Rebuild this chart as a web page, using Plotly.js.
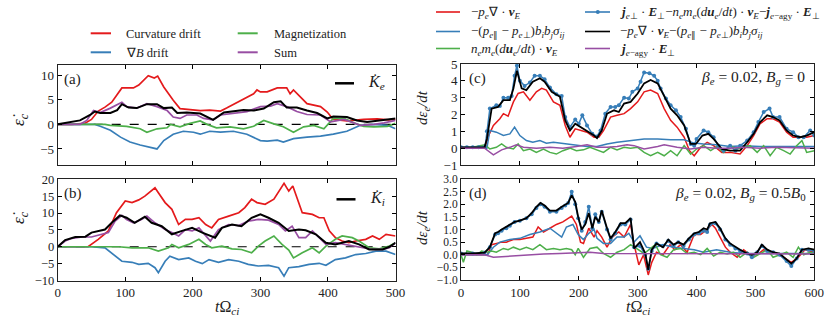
<!DOCTYPE html>
<html><head><meta charset="utf-8">
<script src="https://cdn.plot.ly/plotly-3.0.1.min.js"></script>
<style>html,body{margin:0;padding:0;background:#fff}#plot{width:831px;height:319px}</style>
</head><body><div id="plot"></div>
<script>
// ---------- Panel (a): electrons, t in units of 1/Omega_ci ----------
const aCurvT = [0,20,40,50,60,70,80,90,95,112,120,134,140,143,148,157,171,181,196,211,225,241,250,260,271,290,295,300,310,325,339,344,349,359,369,389,399,408,428,453,473,490,500];
const aCurvV = [0,0,0.2,1.0,2.7,3.5,4.5,6.5,7.4,7.4,8.0,9.9,9.6,9.4,9.8,7.6,4.9,3.2,3.0,2.8,2.9,2.7,3.3,4.0,4.9,6.2,7.0,6.6,6.6,7.4,7.4,6.2,7.0,5.5,4.2,3.6,2.5,1.0,0.7,1.0,1.1,0.9,1.0];
const aGradT = [0,55,63,78,93,107,122,137,147,157,171,186,201,211,225,241,260,280,300,310,325,334,349,369,389,408,428,448,468,488,500];
const aGradV = [0,0,-0.4,-1.2,-2.6,-3.6,-4.2,-4.6,-5.0,-3.3,-2.0,-1.4,-1.6,-2.0,-1.4,-1.6,-1.4,-2.0,-3.3,-3.4,-3.2,-3.6,-2.9,-2.6,-2.4,-2.0,-1.4,-0.2,0,-0.2,-0.9];
const aMagT = [0,70,78,102,122,132,147,162,167,181,196,211,221,235,255,275,290,305,320,334,349,364,379,394,408,424,438,453,468,488,500];
const aMagV = [0,0,-0.2,-0.4,-0.9,-1.6,-0.9,-0.7,0,-0.5,0.2,0.7,0,-0.7,-0.5,-0.9,-0.4,0.8,0.1,-0.5,-1.6,-0.5,-0.2,-0.9,1.2,1.2,0.3,-0.4,-0.5,-0.4,0.2];
const aSumT = [0,20,33,43,53,63,78,95,102,117,132,147,162,171,181,191,206,216,230,241,260,280,300,315,325,339,354,369,389,404,424,448,468,483,500];
const aSumV = [0,0,0,0.8,2.8,2.4,3.3,4.5,3.6,3.3,4.2,3.6,2.8,1.5,1.2,1.9,1.9,1.2,0.9,1.9,2.3,2.6,3.6,3.7,4.2,3.6,2.6,2.0,1.9,0.5,1.0,-0.2,0,0.3,0.8];
const aKT = [0,13,33,48,55,63,78,88,95,105,117,132,147,157,169,177,191,211,225,230,246,260,275,290,305,320,330,339,354,369,384,399,408,428,443,458,478,500];
const aKV = [0,0.3,0.8,1.9,2.6,2.3,2.3,2.9,4.1,3.4,3.3,4.1,4.1,3.3,3.4,2.3,2.4,2.2,1.2,0.9,2.4,2.6,2.9,2.8,3.2,4.5,4.7,3.4,3.4,2.8,2.3,1.2,1.6,1.5,0.8,0.5,0.8,1.2];

// ---------- Panel (b): ions ----------
const bCurvT = [0,45,60,75,87,100,110,120,129,139,144,149,159,169,179,189,199,209,219,228,238,253,268,277,287,295,307,320,330,335,342,348,362,377,387,394,402,411,421,431,441,456,466,476,486,495,500];
const bCurvV = [0,0,2.2,4.7,10.1,13.6,13.1,13.9,15,16.5,17.5,16,13.1,11.1,6.6,8.1,8.1,8.6,6.6,5.6,8.1,9.1,10.1,11.6,14.1,13.1,12.6,14.1,17.5,18.8,16.5,18,10.1,9.6,8.6,8.6,4.7,2.7,1.7,1.2,1.7,2.2,3.2,2.2,3.7,3.4,3.2];
const bGradT = [0,50,70,85,95,110,120,134,144,149,159,166,179,194,204,214,224,238,253,268,282,297,312,327,335,342,357,372,387,397,411,426,441,456,471,486,500];
const bGradV = [0,0,-0.3,-2.8,-4.3,-4.6,-5.2,-4.9,-6.2,-7.7,-4.3,-2.8,-3.8,-3.3,-4.3,-5.0,-3.8,-4.6,-3.8,-4.3,-5.2,-5.7,-5.5,-6.2,-8.7,-6.2,-5.9,-5.2,-4.9,-5.5,-3.8,-3.3,-2.3,-2.0,-1.3,-1.3,-2.3];
const bMagT = [0,90,110,134,149,164,169,179,194,209,219,228,243,258,272,287,297,307,320,332,342,349,362,377,387,397,411,421,436,446,461,476,491,500];
const bMagV = [0,0,-0.3,-0.3,-1.3,-0.3,0.7,-0.3,0.7,2.2,0.7,-0.3,0.2,-0.6,-0.8,-1.8,0.2,1.7,3.2,0.7,-1.0,-3.3,-1.8,-0.3,-1.8,0.2,2.2,3.2,2.7,1.7,-0.3,-0.6,0.2,1.2];
const bSumT = [0,11,21,36,50,65,75,85,95,102,112,124,132,144,159,169,179,189,199,209,219,226,238,253,268,282,297,312,327,337,347,357,367,377,387,397,411,426,441,451,466,481,491,500];
const bSumV = [0,1.7,2.5,2.9,2.9,3.7,4.2,7.6,9.3,8.1,7.1,8.1,9.1,7.1,5.1,4.2,3.2,5.1,4.7,5.6,3.2,1.7,5.1,6.6,6.3,7.6,8.1,7.9,6.6,4.7,6.1,2.7,2.7,4.7,2.7,0.7,1.2,0.7,0.2,-0.3,-0.8,-0.8,-0.3,1.2];
const bKT = [0,11,26,41,50,60,70,80,92,102,114,129,139,154,169,184,199,214,226,233,243,258,272,287,300,312,327,342,357,367,382,397,411,431,446,461,481,491,500];
const bKV = [0,2,2.9,3,4.2,4.7,5.1,7.1,9.3,8.6,7.1,8.9,7.1,6.1,3.7,4.7,5.6,4.2,3.2,2.7,5.6,6.6,6.1,8.6,9.6,8.6,7.1,4.7,5.1,4.9,3.7,1.2,0.7,1.7,0.7,-0.8,-0.8,0,1.2];

// ---------- Panel (c): beta_e = 0.02, Bg = 0 ----------
const cCompT = [0,40,47,55,66,72,80,89,97,106,117,128,137,145,157,168,177,185,194,203,214,226,234,242,254,265,277,288,300,311,322,334,345,356,367,379,388,396,407,418,429,443,457,474,486,497,508,520,530,541,553,564,576,587,600];
const cCompV = [0,0,0.75,1.35,1.75,2.05,1.9,2.75,3.25,3.35,2.85,3.35,3.55,3.45,2.75,2.55,1.35,0.65,1.15,1.05,0.95,0.65,0.65,1.05,1.85,1.95,2.05,2.35,2.75,3.35,3.45,3.25,2.35,1.65,1.25,0.65,-0.15,-0.45,0.05,0.35,0.15,-0.25,-0.25,-0.35,0.15,0.75,1.45,1.75,1.75,1.55,0.95,0.65,0.65,0.65,0.75];
const cShearT = [0,44,49,60,72,83,91,100,111,122,134,145,157,168,179,196,214,231,248,265,288,311,334,356,379,396,412,434,457,480,508,536,564,600];
const cShearV = [0,0,1.05,0.95,0.75,0.85,1.25,0.75,0.45,0.35,0.45,0.3,0.35,0.3,0.25,0.15,0.1,0.1,0.25,0.35,0.45,0.55,0.55,0.5,0.5,0.3,0.25,0.2,0.1,0.15,0.1,0.1,0.1,0.1];
const cInerT = [0,20,32,41,49,60,69,77,89,97,106,117,128,140,151,162,173,185,196,208,219,231,242,254,265,277,288,300,311,322,334,345,356,367,379,390,400,412,424,435,446,457,469,480,491,503,514,525,536,548,559,570,579,587,600];
const cInerV = [0.05,0.05,0.15,0.2,-0.05,0.05,0.25,0.05,-0.05,0.25,-0.15,-0.05,-0.25,-0.05,-0.25,-0.35,-0.15,0,-0.15,-0.1,0.05,-0.1,-0.25,0.05,-0.1,0.05,0,0.05,-0.25,-0.45,-0.25,-0.45,-0.15,-0.45,0.15,-0.35,-0.05,0.15,-0.15,0.1,-0.25,0.15,-0.05,0.05,0.15,-0.25,0.15,-0.45,0.05,-0.15,-0.35,0.15,0.45,-0.25,-0.15];
const cJET = [0,10,20,30,41,44,49,60,66,72,80,86,91,95,100,108,117,125,134,142,151,162,171,177,185,194,200,206,214,223,231,237,245,254,262,268,277,285,291,300,305,311,320,328,334,339,348,356,365,373,382,390,396,400,412,420,429,437,446,457,466,474,486,497,505,514,524,530,541,553,564,573,582,593,600];
const cJEV = [0.05,0.05,0.05,0.05,0.1,1.0,2.35,2.55,2.5,3.0,3.0,3.1,4.3,4.9,4.0,3.7,3.9,4.3,4.3,4.1,3.6,3.2,3.1,1.85,1.25,1.7,1.45,1.95,1.35,0.85,0.7,1.05,2.05,2.45,2.45,2.55,3.0,2.95,3.35,3.55,3.95,4.5,4.45,4.3,4.0,3.55,2.95,2.55,2.25,1.85,1.15,0.25,0.15,0.55,1.05,0.95,0.65,0.15,-0.15,0.15,-0.15,0.15,0.45,0.95,1.55,2.15,2.35,1.85,1.85,1.15,0.95,0.65,0.65,1.05,0.75];
const cSumT = [0,40,44,52,63,72,83,89,95,103,111,122,134,142,154,168,177,185,194,203,214,226,231,239,248,260,268,277,288,300,311,322,334,345,356,367,379,390,399,410,420,429,443,457,474,486,497,508,520,530,541,553,564,576,587,600];
const cSumV = [0.05,0.05,0.55,2.35,2.45,2.85,2.85,3.55,4.6,3.55,3.45,3.95,4.15,3.95,3.35,3.05,1.65,1.05,1.45,1.25,1.05,0.75,0.6,1.05,2.05,2.25,2.15,2.65,2.75,3.25,3.85,4.05,3.85,3.05,2.35,1.95,1.35,0.25,0.25,0.75,0.85,0.55,-0.05,-0.15,-0.15,0.35,0.85,1.55,1.95,1.85,1.65,1.05,0.75,0.65,0.75,0.95];
const cAgyT = [0,40,55,69,83,94,106,128,151,173,196,214,231,248,265,282,294,311,334,345,367,390,412,434,457,480,508,536,600];
const cAgyV = [0,0,-0.4,-0.1,0.05,0.2,0.05,0,0.05,0,0.1,0.2,0.05,0.05,0.1,0.2,0.15,-0.05,0.1,0.2,0.05,-0.05,0.05,0,0,0.05,0,0.05,0];

// ---------- Panel (d): beta_e = 0.02, Bg = 0.5 B0 ----------
const dCompT = [0,45,52,60,69,77,89,100,111,122,131,140,151,162,173,188,196,203,208,217,226,231,239,248,257,268,277,288,294,302,310,318,324,332,343,355,363,373,384,396,407,418,426,432,440,449,457,469,480,491,503,514,525,536,548,561,573,584,600];
const dCompV = [0,0,0.4,0.45,0.5,0.5,0.6,0.6,0.65,0.7,1.1,0.9,1.05,1.2,1.3,1.53,1.2,0.5,0.45,1.05,0.7,0.95,0.7,0.3,0.7,0.9,0.7,1.2,0.4,-0.4,0,-0.8,-0.3,0.1,0,0.4,0.2,0.4,0.1,0.8,0.8,1.0,1.2,1.05,0.7,0.3,0.1,-0.1,0.2,0,0,0.2,0.1,0.05,-0.1,-0.3,-0.1,0.2,0.1];
const dShearT = [0,45,55,66,83,100,117,134,151,162,171,179,190,199,208,217,226,231,242,254,265,277,285,294,304,315,326,343,361,378,396,412,434,457,480,508,536,564,600];
const dShearV = [0,0,0.3,0.5,0.6,0.65,0.8,0.9,1.05,0.85,0.7,1.1,1.2,0.8,0.6,0.85,1.0,0.65,0.45,0.45,0.7,0.7,0.85,0.5,0.75,0.3,0.25,0.4,0.3,0.25,0.2,0.1,0.2,0.1,0.05,0.05,0.05,0.03,0.05];
const dInerT = [0,4,10,18,27,35,44,52,60,72,80,89,100,111,122,134,145,157,168,179,188,194,199,208,219,231,242,254,265,277,288,300,311,322,330,339,350,361,373,384,396,407,418,429,440,452,463,474,486,497,508,520,530,541,553,564,573,582,593,600];
const dInerV = [0,-0.3,0.15,0.1,0,0.15,0.1,0.15,0.1,0.25,0.2,0.3,0.2,0.3,0.2,0.4,0.2,0.25,0.2,0.25,0.2,0,0.25,-0.1,0.25,0.3,0.05,-0.1,0.1,0.2,0.4,0.2,0.05,0.25,0.4,0,-0.1,0.2,0.25,0.05,0.1,0,0.25,-0.05,0.1,0.03,0.1,-0.1,0.1,-0.1,0.05,0.2,-0.1,0,0.1,-0.1,0.3,0,0.1,0.05];
const dT = [0,20,40,49,58,63,69,77,83,91,100,111,120,128,135,142,151,162,171,177,182,188,194,199,205,211,217,223,228,234,239,248,254,262,271,279,288,294,304,313,318,324,332,343,352,361,369,378,387,396,404,412,418,423,432,440,449,457,466,474,486,494,503,511,520,530,541,553,561,570,579,590,600];
const dJEV = [0.05,0.05,0.08,0.3,0.8,0.85,0.95,1.05,1.15,1.3,1.35,1.45,1.6,1.85,2.0,1.9,1.7,1.7,1.85,1.95,2.05,2.5,2.0,1.45,0.95,1.3,1.9,1.05,1.6,1.3,1.7,1.0,0.6,0.85,1.2,1.2,1.4,0.3,0.35,0.0,-0.55,0.15,0.45,0.35,0.55,0.35,0.5,0.35,0.6,0.8,0.85,0.95,0.9,1.2,1.25,1.0,0.6,0.4,0.25,0.15,0.05,-0.1,0.1,0.35,0.15,0.1,0.0,-0.25,-0.45,-0.15,0.2,0.2,0.15];
const dSumV = [0.05,0.05,0.08,0.3,0.85,0.9,1.0,1.1,1.2,1.3,1.35,1.45,1.65,1.9,2.05,1.95,1.75,1.75,1.9,2.0,2.05,2.35,2.1,1.5,1.0,1.2,1.65,1.05,1.5,1.3,1.75,1.05,0.65,0.9,1.25,1.25,1.45,0.25,0.5,0.05,-0.6,0.2,0.45,0.3,0.6,0.4,0.5,0.4,0.65,0.85,0.9,1.05,1.0,1.25,1.3,1.05,0.65,0.45,0.3,0.2,0.05,0,0.1,0.4,0.2,0.1,0.05,-0.2,-0.35,-0.15,0.2,0.25,0.2];
const dAgyT = [0,40,55,83,111,140,168,196,219,242,282,339,396,480,600];
const dAgyV = [0,0,-0.1,-0.05,0,0.03,0.05,0.08,0.1,0.05,0.05,0.03,0.03,0.03,0.03];

// ---------- tick labels / texts ----------
const xTicks = [0,100,200,300,400,500,600];
const aYTicks = [-5,0,5,10];
const bYTicks = [-10,-5,0,5,10,15,20];
const cYTicks = [-1,0,1,2,3,4,5];
const dYTicks = [-1,-0.5,0,0.5,1,1.5,2,2.5,3];
const leftLegend = ['Curvature drift','\u2207<i>B</i> drift','Magnetization','Sum'];
const rightLegend = [
  '\u2212<i>p<sub>e</sub></i>\u2207 \u00b7 <b><i>v</i></b><sub><i>E</i></sub>',
  '\u2212(<i>p</i><sub><i>e</i>\u2225</sub> \u2212 <i>p</i><sub><i>e</i>\u22a5</sub>)<i>b<sub>i</sub>b<sub>j</sub>\u03c3<sub>ij</sub></i>',
  '<i>n<sub>e</sub>m<sub>e</sub></i>(<i>d</i><b><i>u</i></b><sub><i>e</i></sub>/<i>dt</i>) \u00b7 <b><i>v</i></b><sub><i>E</i></sub>',
  '<b><i>j</i></b><sub><i>e</i>\u22a5</sub> \u00b7 <b><i>E</i></b><sub>\u22a5</sub>\u2212<i>n<sub>e</sub>m<sub>e</sub></i>(<i>d</i><b><i>u</i></b><sub><i>e</i></sub>/<i>dt</i>) \u00b7 <b><i>v</i></b><sub><i>E</i></sub>\u2212<b><i>j</i></b><sub><i>e</i>\u2212agy</sub> \u00b7 <b><i>E</i></b><sub>\u22a5</sub>',
  '\u2212<i>p<sub>e</sub></i>\u2207 \u00b7 <b><i>v</i></b><sub><i>E</i></sub>\u2212(<i>p</i><sub><i>e</i>\u2225</sub> \u2212 <i>p</i><sub><i>e</i>\u22a5</sub>)<i>b<sub>i</sub>b<sub>j</sub>\u03c3<sub>ij</sub></i>',
  '<b><i>j</i></b><sub><i>e</i>\u2212agy</sub> \u00b7 <b><i>E</i></b><sub>\u22a5</sub>'
];

// ---------- styling ----------
const W = 831, H = 319;
const RED = '#e41a1c', BLUE = '#377eb8', GREEN = '#4daf4a', PURPLE = '#984ea3', BLACK = '#000000';
const FONT = 'Liberation Serif';
const TXT = '#222';
const px = x => x / W, py = y => 1 - y / H;

function ln(x, y, color, xa, ya, width, extra) {
  return Object.assign({x: x, y: y, type: 'scatter', mode: 'lines', xaxis: xa, yaxis: ya,
    line: {color: color, width: width || 1.7}, hoverinfo: 'skip', showlegend: false}, extra || {});
}
const traces = [
  ln(aCurvT, aCurvV, RED, 'x', 'y'),
  ln(aGradT, aGradV, BLUE, 'x', 'y'),
  ln(aMagT, aMagV, GREEN, 'x', 'y'),
  ln(aSumT, aSumV, PURPLE, 'x', 'y'),
  ln(aKT, aKV, BLACK, 'x', 'y', 2),
  ln(bCurvT, bCurvV, RED, 'x2', 'y2'),
  ln(bGradT, bGradV, BLUE, 'x2', 'y2'),
  ln(bMagT, bMagV, GREEN, 'x2', 'y2'),
  ln(bSumT, bSumV, PURPLE, 'x2', 'y2'),
  ln(bKT, bKV, BLACK, 'x2', 'y2', 2),
  ln(cCompT, cCompV, RED, 'x3', 'y3', 1.5),
  ln(cShearT, cShearV, BLUE, 'x3', 'y3', 1.5),
  ln(cInerT, cInerV, GREEN, 'x3', 'y3', 1.5),
  ln(cJET, cJEV, BLUE, 'x3', 'y3', 1.5, {mode: 'lines+markers', marker: {size: 4, color: BLUE}}),
  ln(cSumT, cSumV, BLACK, 'x3', 'y3', 1.8),
  ln(cAgyT, cAgyV, PURPLE, 'x3', 'y3', 1.5),
  ln(dCompT, dCompV, RED, 'x4', 'y4', 1.5),
  ln(dShearT, dShearV, BLUE, 'x4', 'y4', 1.5),
  ln(dInerT, dInerV, GREEN, 'x4', 'y4', 1.5),
  ln(dT, dJEV, BLUE, 'x4', 'y4', 1.5, {mode: 'lines+markers', marker: {size: 4, color: BLUE}}),
  ln(dT, dSumV, BLACK, 'x4', 'y4', 1.8),
  ln(dAgyT, dAgyV, PURPLE, 'x4', 'y4', 1.5)
];

function ax(domain, range, tickvals, showLabels, anchor, fmt, fsize) {
  return {domain: domain, range: range, tickvals: tickvals, showticklabels: showLabels, anchor: anchor,
    ticks: 'inside', ticklen: 4, tickwidth: 1, tickcolor: '#000', showline: true, linecolor: '#222', linewidth: 1,
    mirror: 'ticks', showgrid: false, zeroline: false, tickformat: fmt || '',
    tickfont: {family: FONT, size: fsize || 13, color: TXT}, fixedrange: true};
}
const xaD = [px(57.7), px(395.5)], xcD = [px(461), px(814.3)];
const layout = {
  width: W, height: H, margin: {l: 0, r: 0, t: 0, b: 0}, paper_bgcolor: '#fff', plot_bgcolor: '#fff',
  showlegend: false, font: {family: FONT},
  xaxis: ax(xaD, [0, 500], xTicks, false, 'y'),
  yaxis: ax([py(164.7), py(65.3)], [-8.2, 12], aYTicks, true, 'x'),
  xaxis2: ax(xaD, [0, 500], xTicks, true, 'y2'),
  yaxis2: ax([py(280.5), py(179.3)], [-10, 20], bYTicks, true, 'x2', '', 12.5),
  xaxis3: ax(xcD, [0, 600], xTicks, false, 'y3'),
  yaxis3: ax([py(165), py(64)], [-1, 5], cYTicks, true, 'x3'),
  xaxis4: ax(xcD, [0, 600], xTicks, true, 'y4'),
  yaxis4: ax([py(280), py(179)], [-1, 3], dYTicks, true, 'x4', '.1f', 11.5),
  shapes: [], annotations: []
};
// dashed zero lines
layout.shapes.push({type: 'line', xref: 'x', yref: 'y', x0: 0, x1: 500, y0: 0, y1: 0, layer: 'below', line: {color: '#000', width: 1.2, dash: 'dash'}});
layout.shapes.push({type: 'line', xref: 'x2', yref: 'y2', x0: 0, x1: 500, y0: 0, y1: 0, layer: 'below', line: {color: '#000', width: 1.2, dash: 'dash'}});

function ann(text, x, y, size, opts) {
  layout.annotations.push(Object.assign({text: text, xref: 'paper', yref: 'paper', x: px(x), y: py(y),
    xanchor: 'left', yanchor: 'middle', showarrow: false, font: {family: FONT, size: size, color: TXT}}, opts || {}));
}
function legLine(x0, x1, y, color, w) {
  layout.shapes.push({type: 'line', xref: 'paper', yref: 'paper', x0: px(x0), x1: px(x1), y0: py(y), y1: py(y), line: {color: color, width: w || 2}});
}
// left legend
const leftCols = [[90.7, 111, 124], [90.7, 111, 124], [237.7, 257.7, 271.5], [237.7, 257.7, 271.5]];
const leftRows = [33.3, 52.3, 33.3, 52.3];
const leftColors = [RED, BLUE, GREEN, PURPLE];
leftLegend.forEach((t, i) => { legLine(leftCols[i][0], leftCols[i][1], leftRows[i], leftColors[i]); ann(t, leftCols[i][2], leftRows[i] + 0.5, 12.5); });
// right legend
const rightPos = [[436, 460, 469, 12], [436, 460, 469, 31.5], [436, 460, 469, 48.5], [585, 610, 618, 12], [585, 610, 618, 31.5], [585, 610, 618, 48.5]];
const rightColors = [RED, BLUE, GREEN, BLUE, BLACK, PURPLE];
rightLegend.forEach((t, i) => {
  const p = rightPos[i];
  legLine(p[0], p[1], p[3], rightColors[i], 1.6);
  ann(t, p[2], p[3] + 0.5, 13);
});
layout.shapes.push({type: 'circle', xref: 'paper', yref: 'paper', x0: px(595.8), x1: px(599.8), y0: py(14), y1: py(10), fillcolor: BLUE, line: {color: BLUE, width: 0}});
// panel labels
ann('(a)', 62, 80, 15);
ann('(b)', 62, 193.5, 15);
ann('(c)', 467, 79, 15);
ann('(d)', 467, 194, 15);
// in-panel K legends
legLine(335, 354, 83.3, BLACK, 2.5);
ann('<i>K\u0307</i><sub><i>e</i></sub>', 366, 82, 16);
legLine(336.5, 355.5, 199.3, BLACK, 2.5);
ann('<i>K\u0307</i><sub><i>i</i></sub>', 368, 198, 16);
// parameter labels
ann('<i>\u03b2<sub>e</sub></i> = 0.02, <i>B<sub>g</sub></i> = 0', 807, 77, 15.5, {xanchor: 'right'});
ann('<i>\u03b2<sub>e</sub></i> = 0.02, <i>B<sub>g</sub></i> = 0.5<i>B</i><sub>0</sub>', 808, 193, 15.5, {xanchor: 'right'});
// axis titles
const yl = '<i>\u03b5\u0307</i><sub><i>c</i></sub>';
ann(yl, 20, 120, 17, {xanchor: 'center', textangle: -90});
ann(yl, 20, 218, 17, {xanchor: 'center', textangle: -90});
const yr = '<i>d\u03b5</i><sub><i>e</i></sub><i>/dt</i>';
ann(yr, 423, 108, 15, {xanchor: 'center', textangle: -90});
ann(yr, 423, 228, 15, {xanchor: 'center', textangle: -90});
const xl = '<i>t</i>\u03a9<sub><i>ci</i></sub>';
ann(xl, 227, 307, 16, {xanchor: 'center'});
ann(xl, 637.5, 307, 16, {xanchor: 'center'});

Plotly.newPlot('plot', traces, layout, {staticPlot: true, displayModeBar: false});
</script></body></html>
